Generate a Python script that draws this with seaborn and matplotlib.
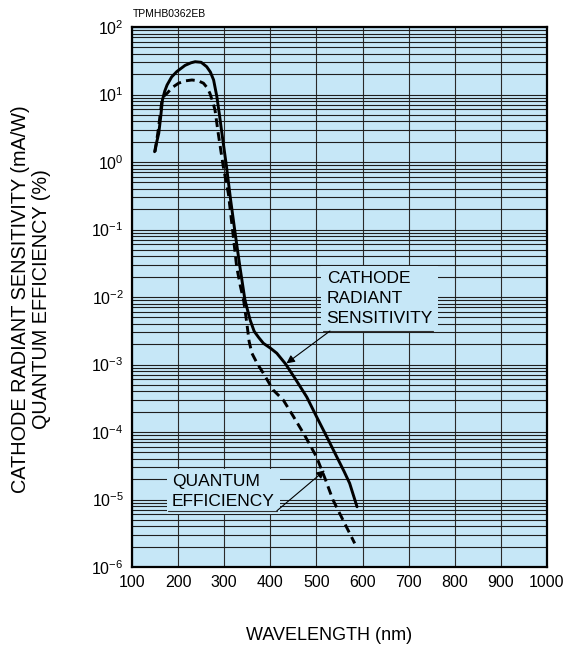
# -*- coding: utf-8 -*-
"""Cathode radiant sensitivity / quantum efficiency vs wavelength"""
import numpy as np
import pandas as pd
import matplotlib
matplotlib.use("Agg")
import matplotlib.pyplot as plt
from matplotlib.ticker import LogLocator, NullFormatter
import seaborn as sns

sns.set_style("white")
plt.rcParams["font.family"] = ["Liberation Sans", "DejaVu Sans"]
plt.rcParams["mathtext.default"] = "regular"
plt.rcParams["text.color"] = "black"
plt.rcParams["xtick.color"] = "black"
plt.rcParams["ytick.color"] = "black"

BG = "#c6e7f7"

# ===== 数据 =====
rad_wl = [149, 153, 158, 162, 166, 171, 176, 186, 197, 215, 228, 237, 250,
          262, 270, 277, 284, 290, 295, 305, 314, 324, 334, 345, 356, 365,
          375, 385, 400, 414, 433, 455, 479, 500, 522, 544, 560, 572, 588]
rad_val = [1.42, 1.9, 2.66, 4.5, 8.3, 11.2, 13.8, 18.2, 21.8, 27.0, 29.5,
           30.6, 30.0, 25.8, 21.5, 16.4, 9.3, 4.8, 2.66, 0.85, 0.27, 0.085,
           0.028, 0.009, 0.0046, 0.0031, 0.0025, 0.00206, 0.00175, 0.00147,
           0.00102, 6.0e-4, 3.3e-4, 1.7e-4, 8.6e-5, 4.3e-5, 2.6e-5, 1.74e-5,
           7.8e-6]

qe_wl = [150, 157, 165, 170, 176, 188, 201, 215, 230, 243, 255, 263, 269,
         275, 280, 287, 298, 309, 318, 327, 335, 342, 349, 354, 360, 372,
         385, 406, 428, 450, 475, 500, 518, 536, 560, 583]
qe_val = [1.42, 3.0, 8.3, 9.6, 10.4, 12.8, 14.7, 15.9, 16.4, 16.0, 14.7,
          12.6, 10.4, 7.8, 5.9, 2.66, 0.85, 0.34, 0.1, 0.028, 0.0145, 0.009,
          0.0041, 0.0022, 0.00147, 0.00102, 7.4e-4, 4.2e-4, 2.98e-4, 1.7e-4,
          8.8e-5, 4.3e-5, 2.1e-5, 9.8e-6, 4.6e-6, 2.24e-6]

x_ticks = [100, 200, 300, 400, 500, 600, 700, 800, 900, 1000]
y_ticks = [1e-6, 1e-5, 1e-4, 1e-3, 1e-2, 1e-1, 1e0, 1e1, 1e2]
y_tick_labels = ["$10^{-6}$", "$10^{-5}$", "$10^{-4}$", "$10^{-3}$", "$10^{-2}$",
                 "$10^{-1}$", "$10^{0}$", "$10^{1}$", "$10^{2}$"]

df = pd.concat([
    pd.DataFrame({"wl": rad_wl, "val": rad_val, "curve": "rad"}),
    pd.DataFrame({"wl": qe_wl, "val": qe_val, "curve": "qe"}),
], ignore_index=True)

# ===== 图 =====
fig = plt.figure(figsize=(5.8, 6.46), dpi=100)
ax = fig.add_axes([132 / 580, 79 / 646, 415 / 580, 540 / 646])
ax.set_facecolor(BG)
ax.set_axisbelow(True)

sns.lineplot(data=df, x="wl", y="val", style="curve",
             dashes={"rad": "", "qe": (3, 1.8)}, color="black", linewidth=2.1,
             estimator=None, sort=False, legend=False, ax=ax)

ax.set_yscale("log")
ax.set_xlim(100, 1000)
ax.set_ylim(1e-6, 1e2)
ax.set_xticks(x_ticks)
ax.set_xticklabels([str(v) for v in x_ticks])
ax.set_yticks(y_ticks)
ax.set_yticklabels(y_tick_labels)
ax.yaxis.set_minor_locator(LogLocator(base=10, subs=np.arange(2, 10)))
ax.yaxis.set_minor_formatter(NullFormatter())
ax.grid(True, which="both", axis="y", color="#1e1e1e", lw=0.8)
ax.grid(True, which="major", axis="x", color="#2a2a2a", lw=0.8)
ax.tick_params(which="both", length=0, labelsize=11.5, pad=6)
ax.set_xlabel(""); ax.set_ylabel("")
for s in ax.spines.values():
    s.set_linewidth(1.6)
    s.set_color("black")

# ===== 标注 =====
box = dict(boxstyle="square,pad=0.3", fc=BG, ec="none")
ax.text(0.469, 0.548, "CATHODE\nRADIANT\nSENSITIVITY", transform=ax.transAxes,
        ha="left", va="top", fontsize=12.5, linespacing=1.42, bbox=box, zorder=3)
ax.plot([0.460, 0.725], [0.437, 0.437], transform=ax.transAxes,
        color="#333333", lw=0.8, zorder=4)
ax.annotate("", xy=(435, 1.04e-3), xycoords="data",
            xytext=(0.477, 0.437), textcoords="axes fraction",
            arrowprops=dict(arrowstyle="-|>", color="black", lw=0.8,
                            mutation_scale=12, shrinkA=0, shrinkB=0), zorder=4)

ax.text(0.0962, 0.172, "QUANTUM\nEFFICIENCY", transform=ax.transAxes,
        ha="left", va="top", fontsize=12.5, linespacing=1.42, bbox=box, zorder=3)
ax.plot([0.087, 0.349], [0.104, 0.104], transform=ax.transAxes,
        color="#333333", lw=0.8, zorder=4)
ax.annotate("", xy=(518, 2.7e-5), xycoords="data",
            xytext=(0.349, 0.104), textcoords="axes fraction",
            arrowprops=dict(arrowstyle="-|>", color="black", lw=0.8,
                            mutation_scale=12, shrinkA=0, shrinkB=0), zorder=4)

fig.text(31 / 580, 1 - 299 / 646,
         "CATHODE RADIANT SENSITIVITY (mA/W)\nQUANTUM EFFICIENCY (%)",
         rotation=90, ha="center", va="center", multialignment="center",
         fontsize=14.3, linespacing=1.15)
fig.text(329 / 580, 1 - 635 / 646, "WAVELENGTH (nm)", ha="center", va="center",
         fontsize=13)
fig.text(133 / 580, 1 - 14 / 646, "TPMHB0362EB", ha="left", va="center",
         fontsize=7.5)

fig.savefig("out.png", dpi=100)
